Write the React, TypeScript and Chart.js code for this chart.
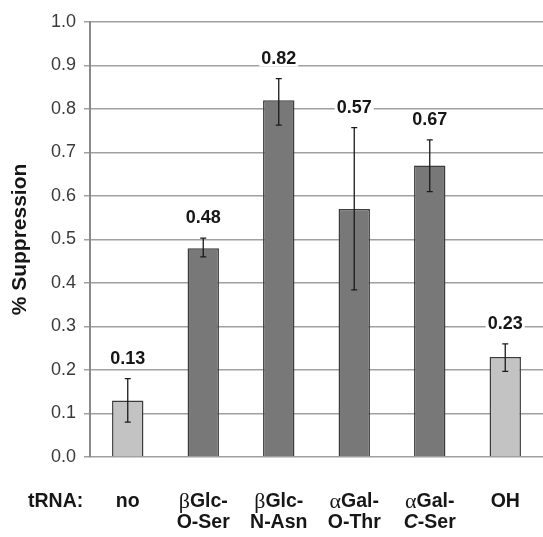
import React, { useEffect, useRef } from "react";
import { Chart, registerables } from "chart.js";

Chart.register(...registerables);

const lineOne = ["no", "βGlc-", "βGlc-", "αGal-", "αGal-", "OH"];
const lineTwo = ["", "O-Ser", "N-Asn", "O-Thr", "C-Ser", ""];
const italicLead = ["C-Ser"];
const values = [0.13, 0.48, 0.82, 0.57, 0.67, 0.23];
const errLow = [0.08, 0.46, 0.763, 0.384, 0.61, 0.197];
const errHigh = [0.18, 0.503, 0.87, 0.757, 0.729, 0.26];
const valueLabels = ["0.13", "0.48", "0.82", "0.57", "0.67", "0.23"];
const shade = ["light", "dark", "dark", "dark", "dark", "light"];
const axisLead = "tRNA:";
const yTitle = "% Suppression";

const SANS = "'Liberation Sans', Arial, sans-serif";
const SERIF = "'Liberation Serif', 'Times New Roman', serif";

function isGreek(ch: string) {
  const c = ch.charCodeAt(0);
  return c >= 0x370 && c <= 0x3ff;
}

function segmentsFor(text: string) {
  const segs: { t: string; font: string }[] = [];
  const italic = italicLead.includes(text);
  for (let i = 0; i < text.length; i++) {
    const ch = text[i];
    let font = `bold 19.5px ${SANS}`;
    if (isGreek(ch)) font = `22px ${SERIF}`;
    else if (italic && i === 0) font = `italic bold 19.5px ${SANS}`;
    const last = segs[segs.length - 1];
    if (last && last.font === font) last.t += ch;
    else segs.push({ t: ch, font });
  }
  return segs;
}

function drawMixed(ctx: CanvasRenderingContext2D, text: string, cx: number, cy: number) {
  const segs = segmentsFor(text);
  let total = 0;
  const widths = segs.map((s) => {
    ctx.font = s.font;
    const w = ctx.measureText(s.t).width;
    total += w;
    return w;
  });
  let x = cx - total / 2;
  ctx.textAlign = "left";
  ctx.textBaseline = "middle";
  segs.forEach((s, i) => {
    ctx.font = s.font;
    ctx.fillText(s.t, x, cy);
    x += widths[i];
  });
}

const overlay = {
  id: "overlay",
  afterDatasetsDraw(chart: any) {
    const ctx: CanvasRenderingContext2D = chart.ctx;
    const xs = chart.scales.x;
    const ys = chart.scales.y;
    ctx.save();
    values.forEach((_, i) => {
      const cx = xs.getPixelForValue(i);
      const yl = ys.getPixelForValue(errLow[i]);
      const yh = ys.getPixelForValue(errHigh[i]);
      ctx.strokeStyle = "#1a1a1a";
      ctx.lineWidth = 1.3;
      ctx.beginPath();
      ctx.moveTo(cx, yl);
      ctx.lineTo(cx, yh);
      ctx.moveTo(cx - 3, yl);
      ctx.lineTo(cx + 3, yl);
      ctx.moveTo(cx - 3, yh);
      ctx.lineTo(cx + 3, yh);
      ctx.stroke();

      ctx.font = `bold 18px ${SANS}`;
      const ty = yh - 20;
      const w = ctx.measureText(valueLabels[i]).width;
      ctx.fillStyle = "#ffffff";
      ctx.fillRect(cx - w / 2 - 2, ty - 8, w + 4, 16);
      ctx.fillStyle = "#161616";
      ctx.textAlign = "center";
      ctx.textBaseline = "middle";
      ctx.fillText(valueLabels[i], cx, ty);
    });
    ctx.restore();
  },
  afterDraw(chart: any) {
    const ctx: CanvasRenderingContext2D = chart.ctx;
    const xs = chart.scales.x;
    const bottom = chart.chartArea.bottom;
    ctx.save();
    ctx.fillStyle = "#161616";
    ctx.font = `bold 19.5px ${SANS}`;
    ctx.textAlign = "left";
    ctx.textBaseline = "middle";
    ctx.fillText(axisLead, 28, bottom + 45);
    lineOne.forEach((t, i) => {
      const cx = xs.getPixelForValue(i);
      if (t) drawMixed(ctx, t, cx, bottom + 45);
      if (lineTwo[i]) drawMixed(ctx, lineTwo[i], cx, bottom + 66);
    });
    ctx.restore();
  },
};

export default function App() {
  const ref = useRef<HTMLCanvasElement | null>(null);
  useEffect(() => {
    if (!ref.current) return;
    const chart = new Chart(ref.current, {
      type: "bar",
      data: {
        labels: lineOne.map((t, i) => (lineTwo[i] ? `${t}${lineTwo[i]}` : t)),
        datasets: [
          {
            data: values,
            backgroundColor: shade.map((s) => (s === "light" ? "#c3c3c3" : "#787878")),
            borderColor: "#3c3c3c",
            borderWidth: 1.5,
            barPercentage: 0.416,
            categoryPercentage: 1,
          },
        ],
      },
      options: {
        responsive: false,
        animation: false,
        devicePixelRatio: 1,
        layout: { padding: { top: 22, bottom: 80, left: 0, right: -3 } },
        plugins: { legend: { display: false }, tooltip: { enabled: false } },
        scales: {
          x: { display: false },
          y: {
            min: 0,
            max: 1,
            ticks: {
              stepSize: 0.1,
              callback: (v: any) => Number(v).toFixed(1),
              font: { size: 18, family: SANS },
              color: "#3a3a3a",
              padding: 8,
            },
            grid: { color: "#a0a0a0", lineWidth: 1.5, tickLength: 6, drawTicks: true },
            border: { display: true, color: "#8a8a8a", width: 2 },
            title: {
              display: true,
              text: yTitle,
              font: { size: 21, weight: "bold", family: SANS },
              color: "#161616",
              padding: { top: 8, bottom: 0 },
            },
            afterFit: (s: any) => {
              s.width = 90;
            },
          },
        },
      },
      plugins: [overlay],
    });
    return () => chart.destroy();
  }, []);
  return (
    <div style={{ position: "absolute", left: 0, top: 0, width: 543, height: 537, background: "#fff" }}>
      <canvas ref={ref} width={543} height={537} />
    </div>
  );
}
